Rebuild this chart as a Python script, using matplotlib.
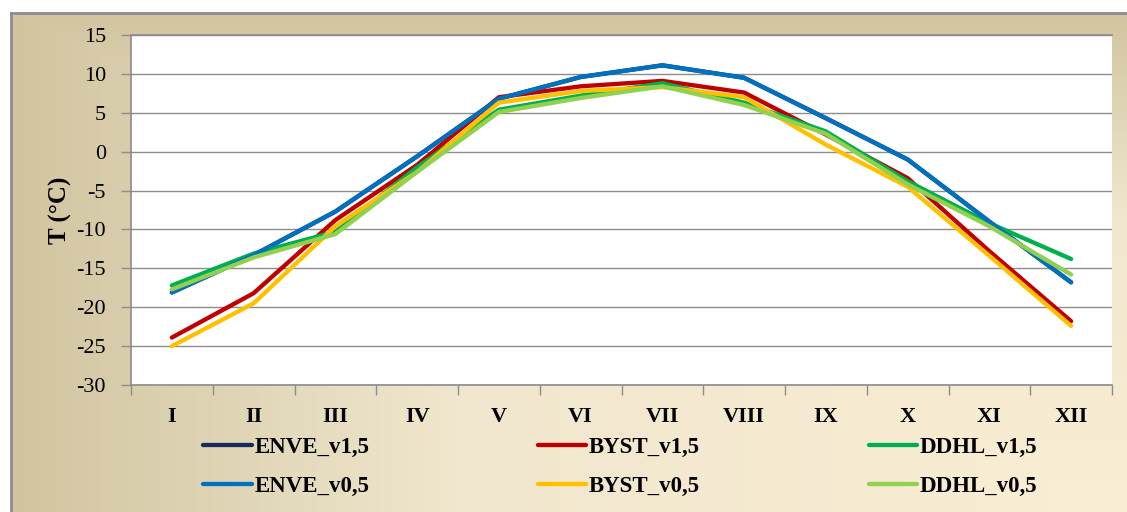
import numpy as np
import matplotlib
matplotlib.use("Agg")
import matplotlib.pyplot as plt

months = ["I", "II", "III", "IV", "V", "VI", "VII", "VIII", "IX", "X", "XI", "XII"]

enve_v15 = [-18.1, -13.3, -7.7, -0.6, 6.8, 9.6, 11.1, 9.5, 4.3, -1.0, -9.0, -16.8]
byst_v15 = [-23.9, -18.2, -8.8, -1.7, 7.0, 8.4, 9.1, 7.6, 2.2, -3.4, -12.8, -21.8]
ddhl_v15 = [-17.2, -13.1, -10.3, -2.0, 5.4, 7.2, 8.8, 6.3, 2.6, -3.8, -9.2, -13.8]
enve_v05 = [-18.1, -13.3, -7.7, -0.6, 6.8, 9.6, 11.1, 9.5, 4.3, -1.0, -9.0, -16.8]
byst_v05 = [-25.0, -19.5, -9.6, -2.6, 6.3, 7.8, 8.3, 7.0, 0.9, -4.5, -13.4, -22.4]
ddhl_v05 = [-17.7, -13.6, -10.6, -2.6, 5.1, 6.9, 8.4, 6.0, 2.3, -4.2, -9.6, -15.8]

series = [
    ("ENVE_v1,5", enve_v15, "#1a2a5e"),
    ("BYST_v1,5", byst_v15, "#c00000"),
    ("DDHL_v1,5", ddhl_v15, "#00b050"),
    ("ENVE_v0,5", enve_v05, "#0070c0"),
    ("BYST_v0,5", byst_v05, "#ffc000"),
    ("DDHL_v0,5", ddhl_v05, "#92d050"),
]

plt.rcParams["font.family"] = ["Liberation Serif", "DejaVu Serif"]
plt.rcParams["axes.unicode_minus"] = False

W, H = 1127, 512
fig = plt.figure(figsize=(W / 100, H / 100), dpi=100)
fig.patch.set_facecolor("white")

# chart area with a corner gradient (dark tan top-left -> cream bottom-right)
bg = fig.add_axes([11 / W, 0, 1 - 11 / W, (H - 13) / H], zorder=-5)
nx, ny = 400, 200
gx = np.linspace(0, 1, nx)[None, :]
gy = np.linspace(0, 1, ny)[:, None]
d = np.maximum(1 - gx, 1 - gy)
stops_d = [0.0, 0.6, 0.82, 1.0]
stops_c = np.array([[250, 238, 212], [241, 231, 206], [222, 212, 180], [210, 196, 160]]) / 255
img = np.stack([np.interp(d, stops_d, stops_c[:, k]) for k in range(3)], axis=-1)
bg.imshow(img, aspect="auto", extent=[0, 1, 0, 1], origin="upper")
bg.set_xlim(0, 1)
bg.set_ylim(0, 1)
bg.set_xticks([])
bg.set_yticks([])
for s in ["right", "bottom"]:
    bg.spines[s].set_visible(False)
for s in ["left", "top"]:
    bg.spines[s].set_color("#8c8c8c")
    bg.spines[s].set_linewidth(2.0)

ax = fig.add_axes([131 / W, 1 - 385 / H, (1112 - 131) / W, 350 / H])
ax.set_facecolor("white")

x = np.arange(len(months))
for name, vals, col in series:
    ax.plot(x, vals, color=col, lw=3.1, label=name, solid_capstyle="round", zorder=3)

ax.set_xlim(-0.5, len(months) - 0.5)
ax.set_ylim(-30, 15)
ax.set_yticks(np.arange(-30, 16, 5))
ax.yaxis.grid(True, color="#8c8c8c", lw=1.0)
ax.set_axisbelow(True)

# category boundaries carry the tick marks, centres carry the labels
ax.set_xticks(np.arange(-0.5, len(months), 1.0))
ax.set_xticklabels([])
ax.set_xticks(x, minor=True)
ax.set_xticklabels(months, minor=True, fontsize=16, fontweight="bold")
ax.tick_params(axis="x", which="major", length=7, width=1, color="#8c8c8c", direction="out")
ax.tick_params(axis="x", which="minor", length=0, pad=16)
ax.tick_params(axis="y", length=7, width=1, color="#8c8c8c", direction="out", pad=11, labelsize=16)

for s in ["left", "bottom", "top"]:
    ax.spines[s].set_color("#8c8c8c")
    ax.spines[s].set_linewidth(1.2)
ax.spines["right"].set_visible(False)

ax.set_ylabel("T (°C)", fontsize=18, fontweight="bold", labelpad=3)

handles, labels = ax.get_legend_handles_labels()
order = [0, 3, 1, 4, 2, 5]
leg = fig.legend([handles[i] for i in order], [labels[i] for i in order],
                 ncol=3, loc="center left", bbox_to_anchor=(192 / W, 1 - 467 / H),
                 frameon=False, prop={"size": 16.5, "weight": "bold"},
                 handlelength=2.1, handletextpad=0.13, columnspacing=7.35,
                 labelspacing=0.75, borderpad=0)

fig.savefig("out.png", dpi=100)
